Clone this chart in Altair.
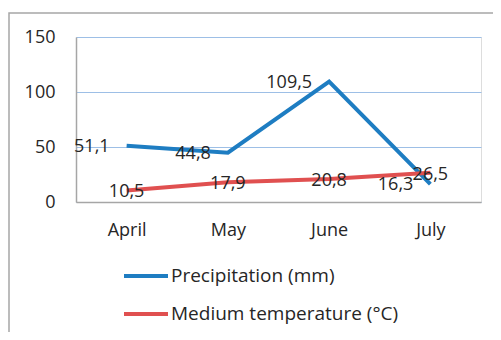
import altair as alt
import pandas as pd

months = ["April", "May", "June", "July"]
precipitation = [51.1, 44.8, 109.5, 16.3]
temperature = [10.5, 17.9, 20.8, 26.5]
series_names = ["Precipitation (mm)", "Medium temperature (°C)"]
series_colors = ["#1E7DC2", "#E05050"]
y_ticks = [0, 50, 100, 150]

rows = []
for m, p, t in zip(months, precipitation, temperature):
    rows.append({"month": m, "series": series_names[0], "value": p,
                 "label": f"{p:.1f}".replace(".", ",")})
    rows.append({"month": m, "series": series_names[1], "value": t,
                 "label": f"{t:.1f}".replace(".", ",")})
df = pd.DataFrame(rows)

FONT = "Open Sans"

x_enc = alt.X("month:N", sort=months, title=None,
              scale=alt.Scale(type="point", padding=0.5),
              axis=alt.Axis(labelAngle=0, ticks=False, domainColor="#a6a6a6",
                            domainWidth=1.5, labelPadding=19, labelFontSize=18,
                            labelColor="#262626", labelFont=FONT, zindex=1))
y_enc = alt.Y("value:Q", title=None,
              scale=alt.Scale(domain=[0, 150], nice=False),
              axis=alt.Axis(values=y_ticks, ticks=False, domainColor="#a6a6a6",
                            domainWidth=1.5, gridColor="#9DBFE6", gridWidth=1,
                            labelPadding=21, labelFontSize=18, labelColor="#262626",
                            labelFont=FONT))

color_enc = alt.Color("series:N",
                      scale=alt.Scale(domain=series_names, range=series_colors),
                      legend=alt.Legend(title=None, orient="none", legendX=46, legendY=215,
                                        direction="vertical", symbolType="stroke",
                                        symbolSize=1936, symbolStrokeWidth=4,
                                        labelFontSize=19, labelFont=FONT, labelLimit=400,
                                        labelColor="#262626", rowPadding=4,
                                        labelOffset=1, padding=0))

border = alt.Chart(pd.DataFrame({"a": [0]})).mark_rect(
    fill=None, stroke="#a6a6a6", strokeWidth=1.5
).encode(x=alt.value(-67), x2=alt.value(700), y=alt.value(-24), y2=alt.value(500))

lines = alt.Chart(df).mark_line(strokeWidth=4).encode(
    x=x_enc, y=y_enc, color=color_enc, order=alt.Order("month_idx:Q")
).transform_calculate(
    month_idx="indexof(['April','May','June','July'], datum.month)"
)

precip_labels = alt.Chart(df).transform_filter(
    alt.datum.series == series_names[0]
).mark_text(align="right", baseline="middle", dx=-17, dy=1,
            fontSize=18, font=FONT, color="#262626").encode(
    x=alt.X("month:N", sort=months), y="value:Q", text="label:N")

temp_labels = alt.Chart(df).transform_filter(
    alt.datum.series == series_names[1]
).mark_text(align="center", baseline="middle", dx=0, dy=2,
            fontSize=18, font=FONT, color="#262626").encode(
    x=alt.X("month:N", sort=months), y="value:Q", text="label:N")

chart = alt.layer(border, lines, precip_labels, temp_labels).properties(
    width=405, height=165,
    autosize=alt.AutoSizeParams(type="none"),
    padding={"left": 68, "top": 29, "right": 12, "bottom": 130},
).configure_view(stroke=None).configure(background="white")

chart.save("out.html", embed_options={"renderer": "svg", "actions": False})
